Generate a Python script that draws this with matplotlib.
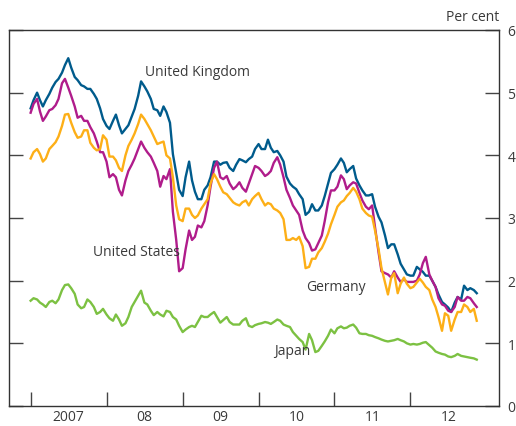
import pandas as pd
import numpy as np
import matplotlib
matplotlib.use("Agg")
from matplotlib import pyplot as plt
import matplotlib.dates as mdates

# semi-monthly readings, Jan 2007 - Nov 2012 (per cent)
dates = pd.date_range("2007-01-01", periods=142, freq="SMS")

uk = [4.75, 4.88, 5.00, 4.88, 4.78, 4.88, 4.98, 5.08, 5.17, 5.22,
      5.32, 5.44, 5.55, 5.40, 5.25, 5.20, 5.12, 5.10, 5.06, 5.06,
      4.98, 4.90, 4.75, 4.58, 4.47, 4.42, 4.55, 4.65, 4.48, 4.35,
      4.42, 4.48, 4.62, 4.74, 4.95, 5.18, 5.10, 5.02, 4.90, 4.74,
      4.72, 4.63, 4.78, 4.69, 4.52, 4.02, 3.72, 3.45, 3.35, 3.65,
      3.90, 3.60, 3.42, 3.30, 3.30, 3.45, 3.52, 3.65, 3.90, 3.90,
      3.85, 3.88, 3.89, 3.80, 3.75, 3.85, 3.94, 3.92, 3.89, 3.94,
      3.98, 4.10, 4.18, 4.10, 4.10, 4.25, 4.12, 4.05, 4.07, 4.00,
      3.90, 3.66, 3.55, 3.50, 3.46, 3.38, 3.30, 3.05, 3.10, 3.22,
      3.12, 3.12, 3.20, 3.35, 3.55, 3.72, 3.78, 3.85, 3.95, 3.88,
      3.73, 3.78, 3.83, 3.63, 3.52, 3.44, 3.36, 3.36, 3.38, 3.18,
      3.02, 2.93, 2.72, 2.52, 2.58, 2.58, 2.42, 2.27, 2.18, 2.10,
      2.08, 2.08, 2.22, 2.18, 2.14, 2.08, 2.08, 2.00, 1.90, 1.78,
      1.66, 1.62, 1.57, 1.50, 1.65, 1.74, 1.70, 1.92, 1.85, 1.88,
      1.85, 1.80]

us = [4.68, 4.82, 4.90, 4.70, 4.55, 4.62, 4.72, 4.74, 4.80, 4.90,
      5.15, 5.22, 5.08, 4.95, 4.78, 4.60, 4.63, 4.55, 4.55, 4.45,
      4.35, 4.22, 4.05, 4.05, 3.90, 3.65, 3.70, 3.65, 3.45, 3.36,
      3.60, 3.75, 3.85, 3.95, 4.10, 4.22, 4.12, 4.05, 3.98, 3.88,
      3.75, 3.50, 3.67, 3.62, 3.78, 3.10, 2.65, 2.15, 2.20, 2.50,
      2.80, 2.65, 2.70, 2.88, 2.85, 2.95, 3.20, 3.50, 3.80, 3.90,
      3.65, 3.62, 3.67, 3.55, 3.46, 3.50, 3.57, 3.48, 3.42, 3.55,
      3.70, 3.83, 3.80, 3.75, 3.67, 3.70, 3.75, 3.88, 3.97, 3.85,
      3.65, 3.45, 3.32, 3.20, 3.12, 3.05, 2.80, 2.68, 2.60, 2.48,
      2.50, 2.60, 2.72, 2.95, 3.25, 3.44, 3.44, 3.50, 3.68, 3.62,
      3.46, 3.52, 3.57, 3.55, 3.40, 3.28, 3.18, 3.14, 3.20, 2.85,
      2.45, 2.15, 2.12, 2.10, 2.05, 2.15, 2.05, 1.98, 2.02, 1.98,
      1.98, 1.98, 2.00, 2.10, 2.28, 2.38, 2.10, 2.00, 1.90, 1.72,
      1.62, 1.60, 1.52, 1.50, 1.58, 1.74, 1.68, 1.68, 1.74, 1.72,
      1.64, 1.58]

germany = [3.95, 4.05, 4.10, 4.02, 3.90, 3.95, 4.10, 4.15, 4.21, 4.30,
           4.47, 4.65, 4.66, 4.52, 4.37, 4.28, 4.30, 4.40, 4.40, 4.20,
           4.12, 4.08, 4.10, 4.32, 4.25, 3.98, 3.98, 3.92, 3.80, 3.75,
           4.00, 4.15, 4.25, 4.35, 4.50, 4.65, 4.58, 4.50, 4.40, 4.30,
           4.18, 4.20, 4.22, 4.00, 3.95, 3.65, 3.20, 2.98, 2.95, 3.15,
           3.15, 3.05, 3.00, 3.04, 3.15, 3.22, 3.30, 3.55, 3.70, 3.62,
           3.50, 3.41, 3.38, 3.32, 3.25, 3.22, 3.20, 3.25, 3.28, 3.20,
           3.30, 3.35, 3.40, 3.30, 3.20, 3.24, 3.22, 3.15, 3.12, 3.08,
           2.98, 2.65, 2.65, 2.68, 2.65, 2.70, 2.55, 2.20, 2.22, 2.35,
           2.35, 2.45, 2.52, 2.62, 2.75, 2.90, 3.05, 3.18, 3.25, 3.28,
           3.35, 3.40, 3.48, 3.42, 3.30, 3.15, 3.08, 3.04, 3.02, 2.80,
           2.50, 2.20, 1.97, 1.78, 2.05, 2.12, 1.80, 1.95, 2.05, 1.95,
           1.88, 1.90, 1.97, 2.03, 1.97, 1.90, 1.85, 1.70, 1.58, 1.42,
           1.20, 1.48, 1.44, 1.20, 1.38, 1.50, 1.50, 1.62, 1.58, 1.50,
           1.55, 1.36]

japan = [1.68, 1.72, 1.70, 1.65, 1.62, 1.58, 1.66, 1.68, 1.64, 1.70,
         1.85, 1.93, 1.94, 1.88, 1.79, 1.62, 1.56, 1.58, 1.70, 1.66,
         1.58, 1.47, 1.50, 1.55, 1.46, 1.40, 1.36, 1.46, 1.38, 1.28,
         1.32, 1.42, 1.58, 1.66, 1.76, 1.84, 1.65, 1.62, 1.52, 1.45,
         1.50, 1.46, 1.43, 1.52, 1.50, 1.42, 1.38, 1.28, 1.18, 1.22,
         1.26, 1.28, 1.26, 1.34, 1.44, 1.42, 1.42, 1.46, 1.50, 1.42,
         1.33, 1.37, 1.42, 1.34, 1.30, 1.30, 1.30, 1.36, 1.40, 1.28,
         1.26, 1.29, 1.31, 1.32, 1.34, 1.33, 1.31, 1.34, 1.38, 1.36,
         1.30, 1.28, 1.26, 1.18, 1.12, 1.07, 1.02, 0.90, 1.15, 1.05,
         0.86, 0.88, 0.96, 1.03, 1.12, 1.22, 1.16, 1.24, 1.27, 1.24,
         1.25, 1.28, 1.30, 1.25, 1.16, 1.15, 1.15, 1.13, 1.12, 1.10,
         1.08, 1.06, 1.04, 1.03, 1.04, 1.05, 1.07, 1.05, 1.03, 1.00,
         0.98, 0.99, 0.98, 0.99, 1.01, 1.02, 0.97, 0.93, 0.87, 0.85,
         0.83, 0.82, 0.79, 0.78, 0.80, 0.83, 0.80, 0.79, 0.78, 0.77,
         0.76, 0.74]

year_labels = ["2007", "08", "09", "10", "11", "12"]

text_col = "#3a3a3a"
plt.rcParams["font.family"] = ["Open Sans", "DejaVu Sans"]

fig = plt.figure(figsize=(5.16, 4.27), dpi=100)
ax = fig.add_axes([9 / 516, 20 / 427, 490 / 516, 376 / 427])

lw = 1.7
ax.plot(dates, uk, color="#005b8c", lw=lw)
ax.plot(dates, us, color="#b01c8b", lw=lw)
ax.plot(dates, germany, color="#fdaf17", lw=lw)
ax.plot(dates, japan, color="#7cc142", lw=lw)

ax.set_xlim(pd.Timestamp("2006-09-19"), pd.Timestamp("2013-03-02"))
ax.set_ylim(0, 6)

# year boundary ticks, labels centred in each year
starts = [pd.Timestamp(f"{y}-01-01") for y in range(2007, 2013)]
mids = [pd.Timestamp(f"{y}-07-02") for y in range(2007, 2013)]
ax.set_xticks(starts)
ax.set_xticklabels([])
ax.set_xticks(mids, minor=True)
ax.set_xticklabels(year_labels, minor=True)
ax.tick_params(axis="x", which="major", direction="in", length=10, width=1, color="#444444")
ax.tick_params(axis="x", which="minor", length=0, pad=2, labelsize=10, labelcolor=text_col)

ax.set_yticks(range(0, 7))
ax.tick_params(axis="y", which="major", direction="in", length=10, width=1, color="#444444",
               left=True, right=True, labelleft=False, labelright=True,
               labelsize=10, labelcolor=text_col, pad=6)

for s in ax.spines.values():
    s.set_color("#333333")
    s.set_linewidth(1)

ax.text(1.0, 1.015, "Per cent", transform=ax.transAxes, ha="right", va="bottom",
        fontsize=10, color=text_col)

lab = dict(fontsize=10, color=text_col, va="center")
ax.text(pd.Timestamp("2008-07-05"), 5.34, "United Kingdom", ha="left", **lab)
ax.text(pd.Timestamp("2008-12-20"), 2.46, "United States", ha="right", **lab)
ax.text(pd.Timestamp("2010-08-20"), 1.91, "Germany", ha="left", **lab)
ax.text(pd.Timestamp("2010-03-15"), 0.88, "Japan", ha="left", **lab)

fig.savefig("out.png", dpi=100)
